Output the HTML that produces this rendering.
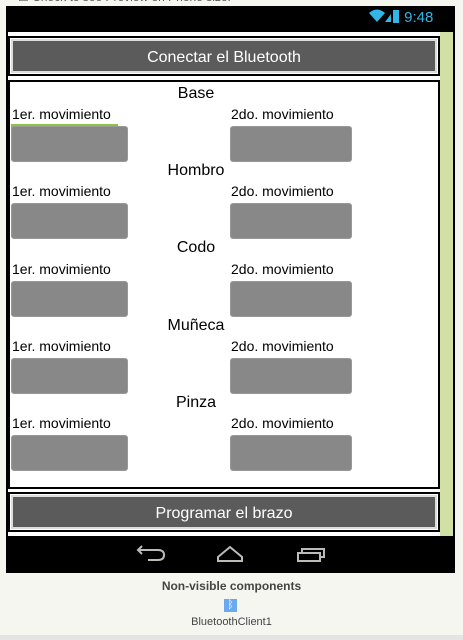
<!DOCTYPE html>
<html><head><meta charset="utf-8"><style>
*{margin:0;padding:0;box-sizing:border-box}
body{width:463px;height:640px;background:#f6f6f1;position:relative;overflow:hidden;font-family:"Liberation Sans",Arial,sans-serif}
.a{position:absolute}
.t{font-size:14px;color:#000;line-height:16px}
.h{font-size:16px;color:#000;line-height:18px;width:376px;left:8px;text-align:center}
.tb{position:absolute;width:117px;height:36px;background:#888;border-radius:3px;border:1px solid #999}
.btn{position:absolute;left:8px;width:432px;height:40px;border:2px solid #000;background:#fff;padding:1px}
.btn div{width:100%;height:100%;background:#5b5b5b;border:2px solid #ddd;color:#fff;font-size:16px;text-align:center;line-height:33px}
</style></head><body>
<div class="a" style="left:18px;top:-10px;font-size:12px;color:#555">☐ Check to see Preview on Phone size.</div>
<div class="a" style="left:6px;top:6px;width:449px;height:567px;background:#000"></div>
<div class="a" style="left:8px;top:32px;width:432px;height:504px;background:#fff"></div>
<div class="a" style="left:440px;top:32px;width:13px;height:504px;background:#d3e0a5"></div>
<div class="a" style="left:368px;top:8px;width:90px;height:20px;color:#33b5e5;font-size:15px;line-height:20px">
<svg width="24" height="16" style="vertical-align:-2px"><path d="M1 5 Q9 -2 17 5 L9 14Z" fill="#33b5e5"/><path d="M17 14 L23 6 L23 14Z" fill="#33b5e5"/></svg><svg width="8" height="16" style="vertical-align:-2px"><rect x="1" y="2" width="6" height="13" fill="#33b5e5"/></svg> 9:48</div>
<div class="btn" style="top:36px"><div>Conectar el Bluetooth</div></div>
<div class="a" style="left:8px;top:80px;width:432px;height:409px;border:2px solid #000"></div>
<div class="a" style="left:11px;top:124px;width:107px;height:2px;background:#8bc34a"></div>
<div class="a" style="left:11px;top:124px;width:2px;height:36px;background:#8bc34a"></div>

<div class="a h" style="top:85px">Base</div>
<div class="a t" style="left:12px;top:106px">1er. movimiento</div>
<div class="a t" style="left:231px;top:106px">2do. movimiento</div>
<div class="tb" style="left:11px;top:126px"></div><div class="tb" style="left:230px;top:126px;width:122px"></div>

<div class="a h" style="top:162px">Hombro</div>
<div class="a t" style="left:12px;top:183px">1er. movimiento</div>
<div class="a t" style="left:231px;top:183px">2do. movimiento</div>
<div class="tb" style="left:11px;top:203px"></div><div class="tb" style="left:230px;top:203px;width:122px"></div>

<div class="a h" style="top:239px">Codo</div>
<div class="a t" style="left:12px;top:261px">1er. movimiento</div>
<div class="a t" style="left:231px;top:261px">2do. movimiento</div>
<div class="tb" style="left:11px;top:281px"></div><div class="tb" style="left:230px;top:281px;width:122px"></div>

<div class="a h" style="top:317px">Muñeca</div>
<div class="a t" style="left:12px;top:338px">1er. movimiento</div>
<div class="a t" style="left:231px;top:338px">2do. movimiento</div>
<div class="tb" style="left:11px;top:358px"></div><div class="tb" style="left:230px;top:358px;width:122px"></div>

<div class="a h" style="top:394px">Pinza</div>
<div class="a t" style="left:12px;top:415px">1er. movimiento</div>
<div class="a t" style="left:231px;top:415px">2do. movimiento</div>
<div class="tb" style="left:11px;top:435px"></div><div class="tb" style="left:230px;top:435px;width:122px"></div>

<div class="btn" style="top:492px"><div>Programar el brazo</div></div>

<svg class="a" style="left:130px;top:540px" width="200" height="28">
<path d="M12 6 L8 10 L12 14 M8 10 L28 10 Q34 10 34 15 Q34 20 28 20 L18 20" fill="none" stroke="#bbb" stroke-width="2"/>
<path d="M88 17 L100 7 L112 17 L112 21 L88 21Z" fill="none" stroke="#bbb" stroke-width="2"/>
<path d="M168 13 L190 13 L190 21 L168 21Z M172 13 L172 9 L194 9 L194 17 L190 17" fill="none" stroke="#bbb" stroke-width="2"/>
</svg>

<div class="a" style="left:0;width:463px;top:579px;text-align:center;font-size:12px;font-weight:bold;color:#444">Non-visible components</div>
<div class="a" style="left:224px;top:599px;width:13px;height:13px;background:#6aa8f0;color:#fff;font-size:11px;line-height:13px;text-align:center">ᛒ</div>
<div class="a" style="left:0;width:463px;top:616px;text-align:center;font-size:11px;color:#444">BluetoothClient1</div>
<div class="a" style="left:0;top:635px;width:463px;height:5px;background:#e4e4e4"></div>
</body></html>
